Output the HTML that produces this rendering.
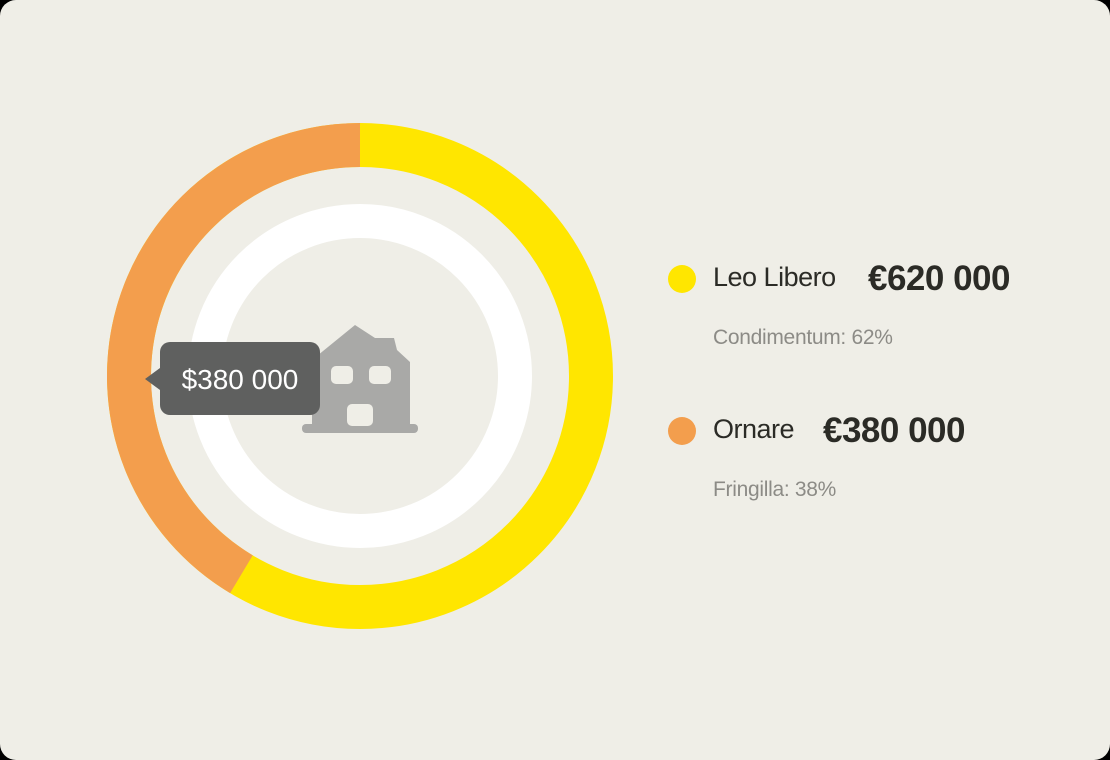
<!DOCTYPE html>
<html><head><meta charset="utf-8"><style>
html,body{margin:0;padding:0;background:#000;}
#card{position:relative;width:1110px;height:760px;background:#efeee7;border-radius:16px;overflow:hidden;font-family:"Liberation Sans",sans-serif;}
.leg{position:absolute;left:668px;}
.dot{position:absolute;left:0;width:28px;height:28px;border-radius:50%;}
.name{position:absolute;left:45px;font-size:27px;color:#2b2b26;white-space:nowrap;letter-spacing:-0.5px}
.val{position:absolute;font-size:35px;font-weight:bold;color:#2b2b26;white-space:nowrap;letter-spacing:-0.5px}
.sub{position:absolute;left:45px;font-size:21px;color:#8c8b86;white-space:nowrap;letter-spacing:-0.3px}
</style></head><body>
<div id="card">
<svg id="chart" width="1110" height="760" style="position:absolute;left:0;top:0">
  <circle cx="360" cy="376" r="155" fill="none" stroke="#ffffff" stroke-width="34"/>
  <g id="slices"></g>
  <g fill="#a9a9a7">
    <path d="M312 360 L355 325 L375 338 L394 338 L397 350 L410 362 L410 426 L312 426 Z"/>
    <rect x="302" y="424" width="116" height="9" rx="4"/>
    <rect x="331" y="366" width="22" height="18" rx="5" fill="#efeee7"/>
    <rect x="369" y="366" width="22" height="18" rx="5" fill="#efeee7"/>
    <rect x="347" y="404" width="26" height="22" rx="5" fill="#efeee7"/>
  </g>
  <g>
    <rect x="160" y="342" width="160" height="73" rx="10" fill="#5f605f"/>
    <path d="M160 368 L145 379 L160 390 Z" fill="#5f605f"/>
    <text x="240" y="389" text-anchor="middle" font-size="28" fill="#ffffff" font-family="Liberation Sans, sans-serif">$380 000</text>
  </g>
</svg>
<div class="leg" style="top:265px">
  <div class="dot" style="top:0;background:#ffe600"></div>
  <div class="name" style="top:-3px">Leo Libero</div>
  <div class="val" style="left:200px;top:-6px">€620 000</div>
  <div class="sub" style="top:61px">Condimentum: 62%</div>
</div>
<div class="leg" style="top:417px">
  <div class="dot" style="top:0;background:#f39e4d"></div>
  <div class="name" style="top:-3px">Ornare</div>
  <div class="val" style="left:155px;top:-6px">€380 000</div>
  <div class="sub" style="top:61px">Fringilla: 38%</div>
</div>
</div>
<script>
const categories = ["Leo Libero", "Ornare"];
const values = [62, 38];
const colors = ["#ffe600", "#f39e4d"];
const cx = 360, cy = 376, r = 231, sw = 44;
const total = values.reduce((a, b) => a + b, 0);
const g = document.getElementById('slices');
function pt(frac) { const a = frac * 2 * Math.PI; return [cx + r * Math.sin(a), cy - r * Math.cos(a)]; }
// yellow: full ring underneath; orange: counterclockwise from top, drawn on top
const bg = document.createElementNS('http://www.w3.org/2000/svg', 'circle');
bg.setAttribute('cx', cx); bg.setAttribute('cy', cy); bg.setAttribute('r', r);
bg.setAttribute('fill', 'none'); bg.setAttribute('stroke', colors[0]); bg.setAttribute('stroke-width', sw);


g.appendChild(bg);
const f = (values[1] / total) * 1.09;
const [x0, y0] = pt(0), [x1, y1] = pt(-f);
const p = document.createElementNS('http://www.w3.org/2000/svg', 'path');
p.setAttribute('d', `M${x0} ${y0} A${r} ${r} 0 ${f > 0.5 ? 1 : 0} 0 ${x1} ${y1}`);
p.setAttribute('fill', 'none');
p.setAttribute('stroke', colors[1]);
p.setAttribute('stroke-width', sw);


g.appendChild(p);
</script>
</body></html>
